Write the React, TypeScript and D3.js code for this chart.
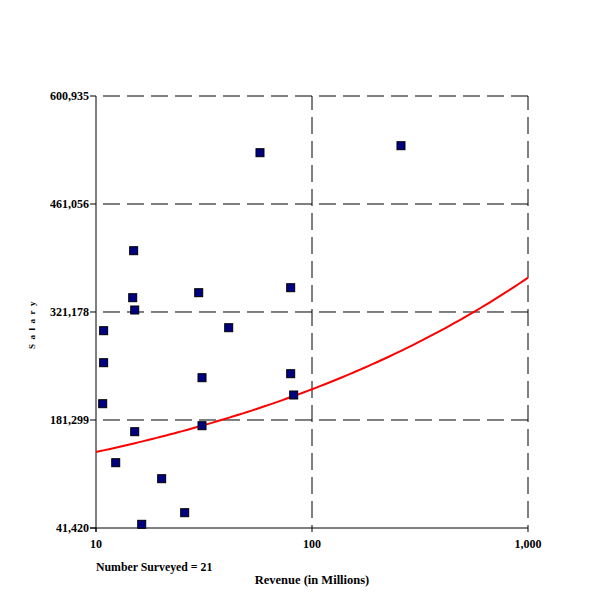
import { useEffect, useRef } from 'react';
import * as d3 from 'd3';

// revenue (millions) / salary pairs
const revenue = [
    14.94, 14.79, 15.11, 10.85, 10.85, 29.89, 41.15, 30.96, 10.74, 15.11,
    30.96, 12.34, 20.14, 25.74, 16.28, 79.68, 79.68, 82.28, 57.44, 258.2,
];
const salary = [
    400570, 339700, 323770, 296960, 255510, 346170, 300840, 236080, 202410, 166150,
    173920, 126000, 105270, 61240, 46210, 352650, 241270, 213680, 527500, 536560,
];

const yTicks = [41420, 181299, 321178, 461056, 600935];
const xTicks = [10, 100, 1000];

// fitted trend: salary = trendBase + trendScale * revenue ^ trendExp
const trendBase = 35461;
const trendScale = 58713;
const trendExp = 0.25;

const App = () => {
    const svgRef = useRef(null);

    useEffect(() => {
        if (!svgRef.current) return;
        const svg = d3.select(svgRef.current);
        svg.selectAll('*').remove();

        const left = 96;
        const right = 528;
        const top = 96;
        const bottom = 528;

        const x = d3.scaleLog().domain([10, 1000]).range([left, right]);
        const y = d3.scaleLinear().domain([41420, 600935]).range([bottom, top]);
        const fmt = d3.format(',');
        const font = '"Liberation Serif", "Times New Roman", serif';

        // grid (dashed)
        svg.append('g')
            .selectAll('line')
            .data(yTicks.slice(1))
            .join('line')
            .attr('x1', left)
            .attr('x2', right)
            .attr('y1', (d) => y(d))
            .attr('y2', (d) => y(d))
            .attr('stroke', '#000')
            .attr('stroke-width', 1)
            .attr('stroke-dasharray', '17,7')
            .attr('stroke-dashoffset', 17);

        svg.append('g')
            .selectAll('line')
            .data(xTicks.slice(1))
            .join('line')
            .attr('x1', (d) => x(d))
            .attr('x2', (d) => x(d))
            .attr('y1', top)
            .attr('y2', bottom)
            .attr('stroke', '#000')
            .attr('stroke-width', 1)
            .attr('stroke-dasharray', '17,7')
            .attr('stroke-dashoffset', 3);

        // axes
        svg.append('line')
            .attr('x1', left).attr('x2', left)
            .attr('y1', top).attr('y2', bottom + 4)
            .attr('stroke', '#000');
        svg.append('line')
            .attr('x1', left - 6).attr('x2', right)
            .attr('y1', bottom).attr('y2', bottom)
            .attr('stroke', '#000');

        const yAxis = svg.append('g');
        yAxis.selectAll('line')
            .data(yTicks)
            .join('line')
            .attr('x1', left - 6)
            .attr('x2', left)
            .attr('y1', (d) => y(d))
            .attr('y2', (d) => y(d))
            .attr('stroke', '#000');
        yAxis.selectAll('text')
            .data(yTicks)
            .join('text')
            .attr('x', left - 7)
            .attr('y', (d) => y(d) + 4)
            .attr('text-anchor', 'end')
            .attr('font-family', font)
            .attr('font-weight', 'bold')
            .attr('font-size', 12)
            .text((d) => fmt(d));

        const xAxis = svg.append('g');
        xAxis.selectAll('line')
            .data(xTicks)
            .join('line')
            .attr('x1', (d) => x(d))
            .attr('x2', (d) => x(d))
            .attr('y1', bottom)
            .attr('y2', bottom + 4)
            .attr('stroke', '#000');
        xAxis.selectAll('text')
            .data(xTicks)
            .join('text')
            .attr('x', (d) => x(d))
            .attr('y', bottom + 20)
            .attr('text-anchor', 'middle')
            .attr('font-family', font)
            .attr('font-weight', 'bold')
            .attr('font-size', 12)
            .text((d) => fmt(d));

        // trend line
        const trendX = d3.range(0, 101).map((i) => 10 * 100 ** (i / 100));
        const line = d3.line()
            .x((d) => x(d))
            .y((d) => y(trendBase + trendScale * d ** trendExp));
        svg.append('path')
            .attr('d', line(trendX))
            .attr('fill', 'none')
            .attr('stroke', '#ff0000')
            .attr('stroke-width', 2);

        // points
        const size = 8;
        svg.append('g')
            .selectAll('rect')
            .data(revenue.map((r, i) => [r, salary[i]]))
            .join('rect')
            .attr('x', (d) => x(d[0]) - size / 2)
            .attr('y', (d) => y(d[1]) - size / 2)
            .attr('width', size)
            .attr('height', size)
            .attr('fill', '#000080')
            .attr('stroke', '#000')
            .attr('stroke-width', 1);

        // labels
        svg.append('text')
            .attr('x', left)
            .attr('y', 571)
            .attr('font-family', font)
            .attr('font-weight', 'bold')
            .attr('font-size', 11.8)
            .text('Number Surveyed = 21');
        svg.append('text')
            .attr('x', 312)
            .attr('y', 584)
            .attr('text-anchor', 'middle')
            .attr('font-family', font)
            .attr('font-weight', 'bold')
            .attr('font-size', 12.5)
            .text('Revenue (in Millions)');
        svg.append('text')
            .attr('transform', 'translate(35, 323) rotate(-90)')
            .attr('text-anchor', 'middle')
            .attr('font-family', font)
            .attr('font-weight', 'bold')
            .attr('font-size', 9)
            .attr('letter-spacing', 4.5)
            .text('Salary');
    }, []);

    return (
        <svg
            ref={svgRef}
            width={600}
            height={600}
            style={{ position: 'absolute', left: 0, top: 0, background: '#fff' }}
        />
    );
};

export default App;
